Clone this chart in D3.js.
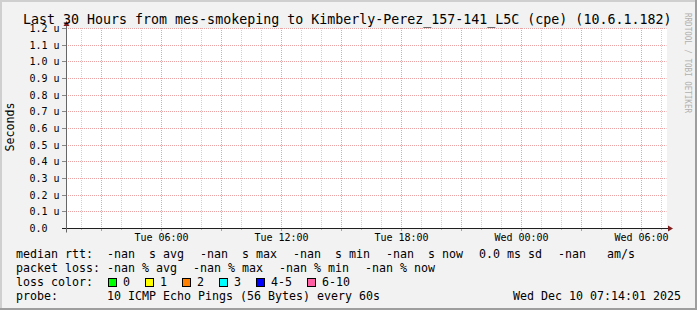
<!DOCTYPE html>
<html>
<head>
<meta charset="utf-8">
<script src="https://cdn.jsdelivr.net/npm/d3@7"></script>
<style>
html, body { margin: 0; padding: 0; background: #f2f2f2; }
svg { display: block; }
text { font-family: "DejaVu Sans Mono", monospace; }
</style>
</head>
<body>
<svg id="chart"></svg>
<script>
// グラフの値
var title = "Last 30 Hours from mes-smokeping to Kimberly-Perez_157-141_L5C (cpe) (10.6.1.182)";
var yAxisTitle = "Seconds";
var watermark = "RRDTOOL / TOBI OETIKER";
var timeStart = new Date(Date.UTC(2025, 11, 9, 1, 14, 1));
var timeEnd = new Date(Date.UTC(2025, 11, 10, 7, 14, 1));
var yMax = 1.2e-6;
var yTicks = [0, 0.1e-6, 0.2e-6, 0.3e-6, 0.4e-6, 0.5e-6, 0.6e-6, 0.7e-6, 0.8e-6, 0.9e-6, 1.0e-6, 1.1e-6, 1.2e-6];
var yTickLabels = ["0.0", "0.1 u", "0.2 u", "0.3 u", "0.4 u", "0.5 u", "0.6 u", "0.7 u", "0.8 u", "0.9 u", "1.0 u", "1.1 u", "1.2 u"];
var medianLabel = "median rtt:";
var medianItems = ["-nan  s avg", "-nan  s max", "-nan  s min", "-nan  s now", "0.0 ms sd", "-nan   am/s"];
var lossLabel = "packet loss:";
var lossItems = ["-nan % avg", "-nan % max", "-nan % min", "-nan % now"];
var colorLabel = "loss color:";
var lossColorLabels = ["0", "1", "2", "3", "4-5", "6-10"];
var lossColors = ["#00ff00", "#ffff00", "#ff8000", "#00ffff", "#0000ff", "#ff5fa5"];
var probeLabel = "probe:";
var probeText = "10 ICMP Echo Pings (56 Bytes) every 60s";
var stampText = "Wed Dec 10 07:14:01 2025";

// サイズ
var W = 697, H = 310;
var pLeft = 66.5, pRight = 666.5, pTop = 28.5, pBottom = 228.5;
var cw = 7; // 等幅文字の幅
var snap = function(v){ return Math.floor(v) + 0.5; };

var svg = d3.select("#chart").attr("width", W).attr("height", H);

// 背景と枠
svg.append("rect").attr("width", W).attr("height", H).attr("fill", "#f2f2f2");
svg.append("path").attr("d", "M0,1 H" + W + " M1,0 V" + H)
    .attr("stroke", "#cfcfcf").attr("stroke-width", 2);
svg.append("path").attr("d", "M0," + (H - 1) + " H" + W + " M" + (W - 1) + ",0 V" + H)
    .attr("stroke", "#9e9e9e").attr("stroke-width", 2);

var x = d3.scaleUtc().domain([timeStart, timeEnd]).range([pLeft, pRight]);
var y = d3.scaleLinear().domain([0, yMax]).range([pBottom, pTop]);

// キャンバス
svg.append("rect")
    .attr("x", Math.floor(pLeft)).attr("y", Math.floor(pTop))
    .attr("width", pRight - pLeft + 1).attr("height", pBottom - pTop)
    .attr("fill", "#fff");

var g = svg.append("g");

// 縦グリッド（1時間ごと、3時間ごとに主線）
var minorX = x.ticks(d3.utcHour.every(1));
minorX.forEach(function(t){
    var major = t.getUTCHours() % 3 == 0;
    var xx = snap(x(t));
    g.append("line")
        .attr("x1", xx).attr("x2", xx)
        .attr("y1", Math.floor(pTop)).attr("y2", Math.floor(pBottom))
        .attr("stroke", major ? "#eba3a3" : "#d0d0d0")
        .attr("stroke-dasharray", "1,1");
    g.append("line")
        .attr("x1", xx).attr("x2", xx)
        .attr("y1", Math.floor(pBottom)).attr("y2", Math.floor(pBottom) + (major ? 3 : 2))
        .attr("stroke", major ? "#e08a8a" : "#bbb");
});

// 横グリッド
yTicks.forEach(function(v, i){
    var yy = snap(y(v));
    if(v > 0){
        g.append("line")
            .attr("x1", Math.floor(pLeft)).attr("x2", pRight)
            .attr("y1", yy).attr("y2", yy)
            .attr("stroke", "#eba3a3")
            .attr("stroke-dasharray", "1,1");
    }
    g.append("line")
        .attr("x1", Math.floor(pLeft) - 4).attr("x2", Math.floor(pLeft))
        .attr("y1", yy).attr("y2", yy)
        .attr("stroke", "#888");
    g.append("text")
        .attr("x", 29.5).attr("y", yy + 3.7)
        .attr("font-size", "10px")
        .text(yTickLabels[i]);
});

// 軸
g.append("line")
    .attr("x1", Math.floor(pLeft) - 4).attr("x2", pRight + 3)
    .attr("y1", snap(pBottom)).attr("y2", snap(pBottom))
    .attr("stroke", "#1f1f1f");
g.append("line")
    .attr("x1", snap(pLeft)).attr("x2", snap(pLeft))
    .attr("y1", snap(pBottom) + 4).attr("y2", pTop - 3)
    .attr("stroke", "#666");
// 矢印
var ax = pRight + 1.5, ay = snap(pBottom);
g.append("path")
    .attr("d", "M" + ax + "," + (ay - 3) + " L" + (ax + 5) + "," + ay + " L" + ax + "," + (ay + 3) + "Z")
    .attr("fill", "#801f1f");
var tx = snap(pLeft), ty = pTop - 2.5;
g.append("path")
    .attr("d", "M" + (tx - 3) + "," + ty + " L" + tx + "," + (ty - 5) + " L" + (tx + 3) + "," + ty + "Z")
    .attr("fill", "#801f1f");

// X軸ラベル
var fmt = d3.utcFormat("%a %H:%M");
x.ticks(d3.utcHour.every(6)).forEach(function(t){
    g.append("text")
        .attr("x", snap(x(t))).attr("y", 241)
        .attr("text-anchor", "middle")
        .attr("font-size", "10px")
        .text(fmt(t));
});

// タイトル
svg.append("text")
    .attr("x", 23).attr("y", 24)
    .attr("font-size", "13.3px")
    .text(title);

// Y軸タイトル
svg.append("text")
    .attr("transform", "translate(14,127) rotate(-90)")
    .attr("text-anchor", "middle")
    .attr("font-size", "11.63px")
    .text(yAxisTitle);

// 透かし
svg.append("text")
    .attr("transform", "translate(685,13) rotate(90)")
    .attr("font-size", "8px")
    .attr("textLength", 100)
    .attr("lengthAdjust", "spacingAndGlyphs")
    .attr("fill", "#b0b0b0")
    .text(watermark);

// 凡例
var lg = svg.append("g").attr("font-size", "11.63px");
function legend_row(yy, label, items){
    lg.append("text").attr("x", 16).attr("y", yy).text(label);
    var cx = 107;
    items.forEach(function(s){
        lg.append("text").attr("x", cx).attr("y", yy)
            .attr("xml:space", "preserve")
            .style("white-space", "pre")
            .text(s);
        cx += s.length * cw + 16;
    });
}
legend_row(258, medianLabel, medianItems);
legend_row(272, lossLabel, lossItems);

lg.append("text").attr("x", 16).attr("y", 286).text(colorLabel);
var bx = 108;
lossColorLabels.forEach(function(s, i){
    lg.append("rect")
        .attr("x", bx + 0.5).attr("y", 278.5)
        .attr("width", 8).attr("height", 8)
        .attr("fill", lossColors[i])
        .attr("stroke", "#000");
    lg.append("text").attr("x", bx + 15).attr("y", 286).text(s);
    bx += 30 + s.length * cw;
});

lg.append("text").attr("x", 16).attr("y", 300).text(probeLabel);
lg.append("text").attr("x", 107).attr("y", 300).text(probeText);
lg.append("text").attr("x", 681).attr("y", 300).attr("text-anchor", "end").text(stampText);
</script>
</body>
</html>
